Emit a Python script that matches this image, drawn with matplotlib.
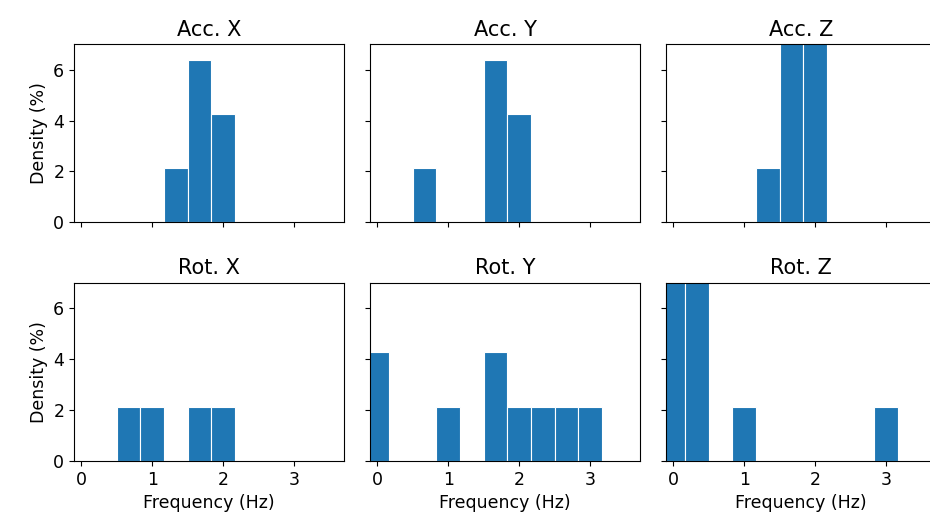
import numpy as np
import matplotlib.pyplot as plt

plt.rcParams['font.size'] = 12.5

# bin centers (Hz) and densities (%) per channel, bins are 1/3 Hz wide
titles = ['Acc. X', 'Acc. Y', 'Acc. Z', 'Rot. X', 'Rot. Y', 'Rot. Z']

acc_x_freq = [4/3, 5/3, 2]
acc_x_dens = [2.13, 6.38, 4.26]

acc_y_freq = [2/3, 5/3, 2]
acc_y_dens = [2.13, 6.38, 4.26]

acc_z_freq = [4/3, 5/3, 2]
acc_z_dens = [2.13, 8.51, 10.64]

rot_x_freq = [2/3, 1, 5/3, 2]
rot_x_dens = [2.13, 2.13, 2.13, 2.13]

rot_y_freq = [0, 1, 5/3, 2, 7/3, 8/3, 3]
rot_y_dens = [4.26, 2.13, 4.26, 2.13, 2.13, 2.13, 2.13]

rot_z_freq = [0, 1/3, 1, 3]
rot_z_dens = [10.64, 8.51, 2.13, 2.13]

freqs = [acc_x_freq, acc_y_freq, acc_z_freq, rot_x_freq, rot_y_freq, rot_z_freq]
dens = [acc_x_dens, acc_y_dens, acc_z_dens, rot_x_dens, rot_y_dens, rot_z_dens]
bin_width = 1/3

fig, axes = plt.subplots(2, 3, sharex=True, sharey=True, figsize=(9.3, 5.21), dpi=100)
plt.subplots_adjust(left=74/930, right=936/930, top=0.9155, bottom=0.115,
                    wspace=0.0963, hspace=0.337)

for ax, title, f, d in zip(axes.flat, titles, freqs, dens):
    ax.bar(f, d, width=bin_width, color='C0', edgecolor='white', linewidth=0.8)
    ax.set_title(title)

axes[0, 0].set_xlim(-0.1, 3.7)
axes[0, 0].set_ylim(0, 7)
axes[0, 0].set_xticks([0, 1, 2, 3])
axes[0, 0].set_yticks([0, 2, 4, 6])

for ax in axes[:, 0]:
    ax.set_ylabel('Density (%)')
for ax in axes[1, :]:
    ax.set_xlabel('Frequency (Hz)')

plt.savefig('out.png')
